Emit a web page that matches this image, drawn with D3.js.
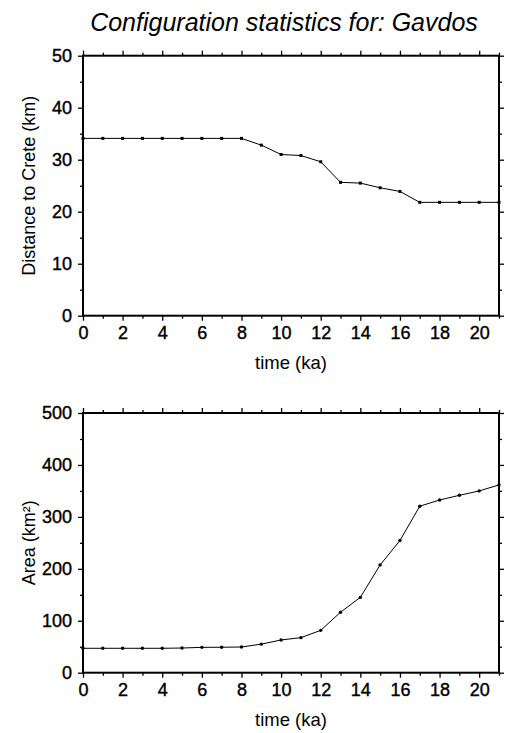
<!DOCTYPE html>
<html>
<head>
<meta charset="utf-8">
<script src="https://cdn.jsdelivr.net/npm/d3@7"></script>
<style>
  body { margin: 0; background: #fff; }
  text { font-family: "Liberation Sans", Arial, sans-serif; fill: #000; }
</style>
</head>
<body>
<div class="chart"></div>
<script>
var times = [0, 1, 2, 3, 4, 5, 6, 7, 8, 9, 10, 11, 12, 13, 14, 15, 16, 17, 18, 19, 20, 21];
var distance = [34.1, 34.1, 34.1, 34.1, 34.1, 34.1, 34.1, 34.1, 34.1, 32.8, 31.0, 30.8, 29.6, 25.65, 25.5, 24.6, 23.9, 21.8, 21.8, 21.8, 21.8, 21.8];
var area = [47, 47, 47, 47, 47, 47.5, 48.8, 49, 49.5, 55, 63, 67.5, 81.5, 116.5, 145, 207.5, 254.5, 320.5, 332.5, 341.5, 350, 361.5];
var xTicks = [0, 2, 4, 6, 8, 10, 12, 14, 16, 18, 20];
var distTicks = [0, 10, 20, 30, 40, 50];
var areaTicks = [0, 100, 200, 300, 400, 500];

var width = 507, height = 733;
var left = 83, right = 499;

var svg = d3.select(".chart")
  .append("svg")
  .attr("width", width)
  .attr("height", height);

svg.append("text")
  .attr("x", 284)
  .attr("y", 31)
  .attr("text-anchor", "middle")
  .style("font-size", "25px")
  .style("font-style", "italic")
  .text("Configuration statistics for: Gavdos");

var x = d3.scaleLinear().domain([0, 21]).range([left, right]);

function panel(top, bottom, ymax, yTicks, values, ylabel, marker) {
  var y = d3.scaleLinear().domain([0, ymax]).range([bottom, top]);
  var g = svg.append("g");
  var minorX = d3.range(1, 22, 2);
  var minorY = yTicks.slice(0, -1).map(function(t) { return t + ymax / 10; });

  // bottom axis with labels
  var ax = g.append("g").attr("transform", "translate(0," + bottom + ")")
    .call(d3.axisBottom(x).tickValues(xTicks).tickSize(5).tickPadding(6).tickFormat(d3.format("d")));
  ax.append("g").call(d3.axisBottom(x).tickValues(minorX).tickSize(3).tickFormat(""));
  // top axis
  var at = g.append("g").attr("transform", "translate(0," + top + ")")
    .call(d3.axisTop(x).tickValues(xTicks).tickSize(5).tickFormat(""));
  at.append("g").call(d3.axisTop(x).tickValues(minorX).tickSize(3).tickFormat(""));
  // left axis with labels
  var al = g.append("g").attr("transform", "translate(" + left + ",0)")
    .call(d3.axisLeft(y).tickValues(yTicks).tickSize(5).tickPadding(6).tickFormat(d3.format("d")));
  al.append("g").call(d3.axisLeft(y).tickValues(minorY).tickSize(3).tickFormat(""));
  // right axis
  var ar = g.append("g").attr("transform", "translate(" + right + ",0)")
    .call(d3.axisRight(y).tickValues(yTicks).tickSize(5).tickFormat(""));
  ar.append("g").call(d3.axisRight(y).tickValues(minorY).tickSize(3).tickFormat(""));

  g.selectAll(".domain").remove();
  g.selectAll(".tick line").style("stroke", "#000").style("stroke-width", 1.3);
  g.selectAll(".tick text")
    .style("font-size", "18px")
    .style("font-family", "'Liberation Sans', Arial, sans-serif")
    .style("fill", "#000")
    .style("stroke", "#000")
    .style("stroke-width", 0.4);

  g.append("rect")
    .attr("x", left).attr("y", top)
    .attr("width", right - left).attr("height", bottom - top)
    .style("fill", "none")
    .style("stroke", "#000")
    .style("stroke-width", 2);

  var line = d3.line()
    .x(function(d, i) { return x(times[i]); })
    .y(function(d) { return y(d); });

  g.append("path")
    .datum(values)
    .attr("d", line)
    .style("fill", "none")
    .style("stroke", "#000")
    .style("stroke-width", 1);

  if (marker === "square") {
    g.selectAll("rect.pt")
      .data(values)
      .enter().append("rect")
      .attr("class", "pt")
      .attr("x", function(d, i) { return x(times[i]) - 1.5; })
      .attr("y", function(d) { return y(d) - 1.5; })
      .attr("width", 3).attr("height", 3)
      .style("fill", "#000");
  } else {
    g.selectAll("circle.pt")
      .data(values)
      .enter().append("circle")
      .attr("class", "pt")
      .attr("cx", function(d, i) { return x(times[i]); })
      .attr("cy", function(d) { return y(d); })
      .attr("r", 1.7)
      .style("fill", "#000");
  }

  g.append("text")
    .attr("x", (left + right) / 2)
    .attr("y", bottom + 53)
    .attr("text-anchor", "middle")
    .style("font-size", "18.5px")
    .text("time (ka)");

  g.append("text")
    .attr("transform", "translate(35," + ((top + bottom) / 2) + ") rotate(-90)")
    .attr("text-anchor", "middle")
    .style("font-size", "18px")
    .text(ylabel);
}

panel(55.7, 315.7, 50, distTicks, distance, "Distance to Crete (km)", "square");
panel(413, 672.7, 500, areaTicks, area, "Area (km²)", "circle");
</script>
</body>
</html>
